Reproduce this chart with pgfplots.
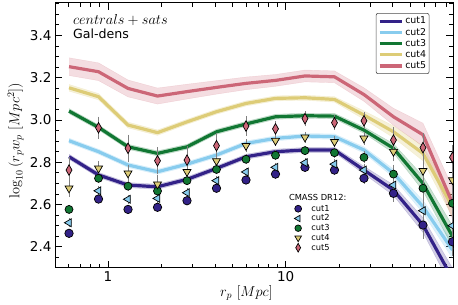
\documentclass[border=0pt]{standalone}
\usepackage[no-math]{fontspec}
\setmainfont{DejaVu Sans}
\usepackage{pgfplots}
\pgfplotsset{compat=1.18}
\usepackage{pgfplotstable}
\usepgfplotslibrary{fillbetween}

\definecolor{c1}{HTML}{332288}
\definecolor{c2}{HTML}{88CCEE}
\definecolor{c3}{HTML}{117733}
\definecolor{c4}{HTML}{DDCC77}
\definecolor{c5}{HTML}{CC6677}

% model curves (line) and band half-widths
\pgfplotstableread{
x      m1    b1    m2    b2    m3    b3    m4    b4    m5    b5
0.6032 2.826 0.012 2.902 0.012 3.042 0.012 3.152 0.016 3.252 0.042
0.8841 2.740 0.012 2.850 0.012 2.965 0.012 3.110 0.015 3.228 0.042
1.2957 2.692 0.012 2.787 0.012 2.873 0.012 2.976 0.014 3.149 0.040
1.8990 2.684 0.012 2.755 0.012 2.842 0.012 2.940 0.013 3.113 0.038
2.7829 2.719 0.012 2.791 0.012 2.873 0.012 2.991 0.012 3.134 0.035
4.0783 2.771 0.012 2.834 0.012 2.944 0.012 3.039 0.012 3.154 0.032
5.9770 2.826 0.012 2.889 0.012 2.981 0.012 3.078 0.012 3.173 0.030
8.7594 2.850 0.012 2.913 0.012 3.015 0.012 3.102 0.012 3.187 0.028
12.837 2.858 0.012 2.924 0.012 3.020 0.012 3.105 0.012 3.208 0.028
18.813 2.858 0.013 2.921 0.013 3.018 0.013 3.097 0.013 3.204 0.028
27.571 2.763 0.018 2.858 0.015 2.952 0.015 3.023 0.020 3.120 0.032
40.405 2.668 0.025 2.748 0.020 2.866 0.022 2.944 0.028 3.015 0.040
59.216 2.503 0.035 2.590 0.030 2.700 0.035 2.842 0.035 2.930 0.055
86.780 2.250 0.050 2.385 0.040 2.450 0.050 2.590 0.050 2.607 0.075
}\model

% CMASS DR12 measurements
\pgfplotstableread{
x      d1    s1    d2    s2    d3    s3    d4    s4    d5    s5
0.6032 2.464 0.010 2.514 0.010 2.577 0.012 2.677 0.030 2.763 0.050
0.8841 2.626 0.010 2.665 0.010 2.724 0.012 2.771 0.025 2.963 0.042
1.2957 2.577 0.010 2.625 0.010 2.687 0.012 2.748 0.030 2.866 0.054
1.8990 2.587 0.010 2.629 0.010 2.664 0.012 2.696 0.035 2.807 0.054
2.7829 2.618 0.010 2.656 0.010 2.713 0.012 2.755 0.030 2.810 0.054
4.0783 2.677 0.010 2.713 0.010 2.766 0.012 2.806 0.025 2.878 0.050
5.9770 2.716 0.010 2.754 0.010 2.814 0.012 2.878 0.020 2.971 0.035
8.7594 2.744 0.010 2.776 0.010 2.833 0.012 2.902 0.015 2.958 0.025
12.837 2.776 0.010 2.798 0.010 2.855 0.012 2.918 0.015 3.006 0.025
18.813 2.763 0.012 2.791 0.012 2.845 0.013 2.897 0.015 2.987 0.024
27.571 2.724 0.015 2.763 0.018 2.823 0.018 2.913 0.020 2.996 0.030
40.405 2.653 0.028 2.692 0.030 2.744 0.034 2.850 0.035 2.905 0.050
59.216 2.503 0.055 2.571 0.050 2.677 0.047 2.760 0.045 2.869 0.060
86.780 2.424 0.055 2.500 0.055 2.606 0.050 2.716 0.050 2.823 0.050
}\data

\begin{document}
\begin{tikzpicture}
\begin{axis}[scale only axis, width=398pt, height=265pt,
  xmode=log, xmin=0.503, xmax=87.4, ymin=2.30, ymax=3.553,
  xtick={1,10}, xticklabels={1,10},
  minor xtick={0.6,0.7,0.8,0.9,2,3,4,5,6,7,8,9,20,30,40,50,60,70,80},
  ytick={2.4,2.6,2.8,3.0,3.2,3.4},
  minor ytick={2.35,2.45,2.5,2.55,2.65,2.7,2.75,2.85,2.9,2.95,3.05,3.1,3.15,3.25,3.3,3.35,3.45,3.5,3.55},
  /pgf/number format/assume math mode=true,
  yticklabel style={/pgf/number format/.cd, fixed, fixed zerofill, precision=1},
  tick label style={font=\fontsize{13.5}{15}\selectfont},
  tick align=inside, major tick length=7pt, minor tick length=4pt,
  tick style={black, line width=0.8pt},
  axis line style={line width=1pt},
  xlabel={$r_p\ [Mpc]$},
  ylabel={$\log_{10}\,(r_p w_p\ [Mpc^2])$},
  xlabel style={font=\fontsize{14}{16}\selectfont, at={(axis description cs:0.481,-0.095)}, anchor=center},
  ylabel style={font=\fontsize{14}{16}\selectfont, at={(axis description cs:-0.099,0.48)}, anchor=center},
  legend style={at={(0.806,0.962)}, anchor=north west, draw=black!70, rounded corners=2pt,
    line width=0.6pt, fill=white, font=\fontsize{9.4}{10}\selectfont,
    inner xsep=2pt, inner ysep=2.5pt, row sep=0.7pt, column sep=1pt,
    nodes={inner sep=1pt, text height=7pt, text depth=1.5pt}},
  legend cell align=left,
  legend image code/.code={\draw[#1, line width=3.2pt, line cap=butt] (0pt,0pt) -- (22pt,0pt);},
]
\coordinate (sw) at (rel axis cs:0,0);
\coordinate (ne) at (rel axis cs:1,1);

% bands
\addplot[draw=c1, draw opacity=0.2, line width=0.4pt, forget plot, name path=u1] table[x=x, y expr=\thisrow{m1}+\thisrow{b1}] {\model};
\addplot[draw=c1, draw opacity=0.2, line width=0.4pt, forget plot, name path=l1] table[x=x, y expr=\thisrow{m1}-\thisrow{b1}] {\model};
\addplot[fill=c1, fill opacity=0.22, draw=none, forget plot] fill between[of=u1 and l1];
\addplot[draw=c2, draw opacity=0.2, line width=0.4pt, forget plot, name path=u2] table[x=x, y expr=\thisrow{m2}+\thisrow{b2}] {\model};
\addplot[draw=c2, draw opacity=0.2, line width=0.4pt, forget plot, name path=l2] table[x=x, y expr=\thisrow{m2}-\thisrow{b2}] {\model};
\addplot[fill=c2, fill opacity=0.28, draw=none, forget plot] fill between[of=u2 and l2];
\addplot[draw=c3, draw opacity=0.2, line width=0.4pt, forget plot, name path=u3] table[x=x, y expr=\thisrow{m3}+\thisrow{b3}] {\model};
\addplot[draw=c3, draw opacity=0.2, line width=0.4pt, forget plot, name path=l3] table[x=x, y expr=\thisrow{m3}-\thisrow{b3}] {\model};
\addplot[fill=c3, fill opacity=0.22, draw=none, forget plot] fill between[of=u3 and l3];
\addplot[draw=c4, draw opacity=0.2, line width=0.4pt, forget plot, name path=u4] table[x=x, y expr=\thisrow{m4}+\thisrow{b4}] {\model};
\addplot[draw=c4, draw opacity=0.2, line width=0.4pt, forget plot, name path=l4] table[x=x, y expr=\thisrow{m4}-\thisrow{b4}] {\model};
\addplot[fill=c4, fill opacity=0.28, draw=none, forget plot] fill between[of=u4 and l4];
\addplot[draw=c5, draw opacity=0.2, line width=0.4pt, forget plot, name path=u5] table[x=x, y expr=\thisrow{m5}+\thisrow{b5}] {\model};
\addplot[draw=c5, draw opacity=0.2, line width=0.4pt, forget plot, name path=l5] table[x=x, y expr=\thisrow{m5}-\thisrow{b5}] {\model};
\addplot[fill=c5, fill opacity=0.22, draw=none, forget plot] fill between[of=u5 and l5];

% model lines
\addplot[c1, line width=3.2pt, line join=round] table[x=x, y=m1] {\model}; \addlegendentry{cut1}
\addplot[c2, line width=3.2pt, line join=round] table[x=x, y=m2] {\model}; \addlegendentry{cut2}
\addplot[c3, line width=3.2pt, line join=round] table[x=x, y=m3] {\model}; \addlegendentry{cut3}
\addplot[c4, line width=3.2pt, line join=round] table[x=x, y=m4] {\model}; \addlegendentry{cut4}
\addplot[c5, line width=3.2pt, line join=round] table[x=x, y=m5] {\model}; \addlegendentry{cut5}

\node[anchor=west, font=\fontsize{14}{16}\selectfont, inner sep=0pt] at (rel axis cs:0.045,0.936) {$centrals+sats$};
\node[anchor=west, font=\fontsize{12.6}{14}\selectfont, inner sep=0pt] at (rel axis cs:0.045,0.882) {Gal-dens};
\node[font=\fontsize{8.3}{9}\selectfont, inner sep=0pt] at (rel axis cs:0.660,0.267) {CMASS DR12:};
\end{axis}

\begin{axis}[scale only axis, width=398pt, height=265pt,
  xmode=log, xmin=0.503, xmax=87.4, ymin=2.30, ymax=3.553,
  hide axis, clip marker paths=true,
  legend style={at={(0.601,0.242)}, anchor=north west, draw=none, fill=none,
    font=\fontsize{8.3}{9}\selectfont, inner xsep=0pt, inner ysep=0pt,
    row sep=0.45pt, column sep=8.7pt,
    nodes={inner sep=1pt, text height=6pt, text depth=1.3pt}},
  legend cell align=left,
  legend image code/.code={\draw[mark repeat=2, mark phase=2, #1, /tikz/every mark/.append style={scale=0.82}] plot coordinates {(0pt,0pt) (5pt,0pt) (10pt,0pt)};},
]
% error bars first
\addplot[only marks, mark=none, forget plot, error bars/.cd, y dir=both, y explicit, error bar style={color=gray, line width=0.7pt}, error mark options={color=gray, line width=0.7pt, mark size=2.3pt}] table[x=x, y=d1, y error=s1] {\data};
\addplot[only marks, mark=none, forget plot, error bars/.cd, y dir=both, y explicit, error bar style={color=gray, line width=0.7pt}, error mark options={color=gray, line width=0.7pt, mark size=2.3pt}] table[x=x, y=d2, y error=s2] {\data};
\addplot[only marks, mark=none, forget plot, error bars/.cd, y dir=both, y explicit, error bar style={color=gray, line width=0.7pt}, error mark options={color=gray, line width=0.7pt, mark size=2.3pt}] table[x=x, y=d3, y error=s3] {\data};
\addplot[only marks, mark=none, forget plot, error bars/.cd, y dir=both, y explicit, error bar style={color=gray, line width=0.7pt}, error mark options={color=gray, line width=0.7pt, mark size=2.3pt}] table[x=x, y=d4, y error=s4] {\data};
\addplot[only marks, mark=none, forget plot, error bars/.cd, y dir=both, y explicit, error bar style={color=gray, line width=0.7pt}, error mark options={color=gray, line width=0.7pt, mark size=2.3pt}] table[x=x, y=d5, y error=s5] {\data};
% markers
\addplot[only marks, mark=*, mark size=4.2pt, mark options={draw=black, fill=c1, line width=0.7pt}] table[x=x, y=d1] {\data}; \addlegendentry{cut1}
\addplot[only marks, mark=triangle*, mark size=4.6pt, mark options={rotate=90, draw=black, fill=c2, line width=0.7pt}] table[x=x, y=d2] {\data}; \addlegendentry{cut2}
\addplot[only marks, mark=*, mark size=4.0pt, mark options={draw=black, fill=c3, line width=0.7pt}] table[x=x, y=d3] {\data}; \addlegendentry{cut3}
\addplot[only marks, mark=triangle*, mark size=4.6pt, mark options={rotate=180, draw=black, fill=c4, line width=0.7pt}] table[x=x, y=d4] {\data}; \addlegendentry{cut4}
\addplot[only marks, mark=diamond*, mark size=5.3pt, mark options={xscale=0.75, draw=black, fill=c5, line width=0.7pt}] table[x=x, y=d5] {\data}; \addlegendentry{cut5}
\end{axis}
\pgfresetboundingbox
\useasboundingbox ([shift={(-55pt,-37pt)}]sw) rectangle ([shift={(5pt,3pt)}]ne);
\end{tikzpicture}
\end{document}
